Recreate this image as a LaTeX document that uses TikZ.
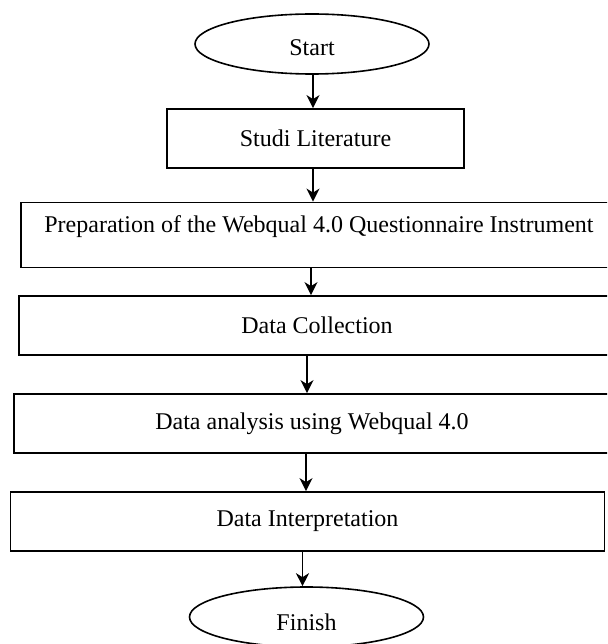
\documentclass[tikz,border=0pt]{standalone}
\usepackage{fontspec}
\setmainfont{Liberation Serif}
\usetikzlibrary{shapes.geometric,arrows.meta}
\begin{document}
\begin{tikzpicture}[x=1pt,y=-1pt,
  box/.style={draw, line width=1.8pt, minimum height=59pt, inner sep=0pt,
              font=\fontsize{24}{28}\selectfont},
  oval/.style={draw, ellipse, line width=1.6pt, minimum width=234pt,
               minimum height=60pt, inner sep=0pt},
  txt/.style={font=\fontsize{24}{28}\selectfont, inner sep=0pt},
  arr/.style={line width=1.8pt, -{Stealth[length=13pt,width=13pt,inset=4pt]}}]
\clip (0,0) rectangle (607,644);
\fill[white] (0,0) rectangle (607,644);

% terminals and process steps
\node[oval] (start) at (312,44) {};
\node[txt] at ([yshift=-4pt]start.center) {Start};

\node[box, minimum width=297pt] (studi) at (315.5,138.5) {Studi Literature};

\node[box, minimum width=596pt, minimum height=65pt] (prep) at (319,235) {};
\node[txt] at ([yshift=8pt]prep.center) {Preparation of the Webqual 4.0 Questionnaire Instrument};

\node[box, minimum width=596pt] (dc) at (317,325.5) {Data Collection};
\node[box, minimum width=596pt] (da) at (312,423.5) {Data analysis using Webqual 4.0};
\node[box, minimum width=594pt] (di) at (307.5,521.5) {Data Interpretation};

\node[oval] (finish) at (306.5,617) {};
\node[txt] at ([yshift=-5pt]finish.center) {Finish};

% flow arrows
\draw[arr] ([xshift=1pt]start.south) -- ([xshift=1pt]start.south |- studi.north);
\draw[arr] ([xshift=-2.5pt]studi.south) -- ([xshift=-2.5pt]studi.south |- prep.north);
\draw[arr] ([xshift=-8pt]prep.south) -- ([xshift=-8pt]prep.south |- dc.north);
\draw[arr] ([xshift=-10pt]dc.south) -- ([xshift=-10pt]dc.south |- da.north);
\draw[arr] ([xshift=-6pt]da.south) -- ([xshift=-6pt]da.south |- di.north);
\draw[arr] ([xshift=-5pt]di.south) -- ([xshift=-5pt]di.south |- finish.north);
\end{tikzpicture}
\end{document}
